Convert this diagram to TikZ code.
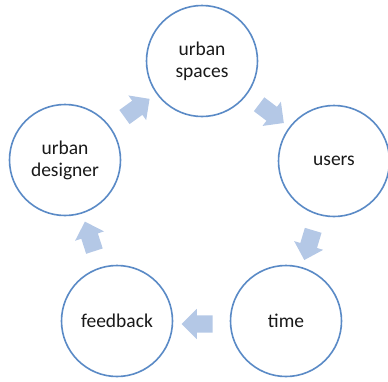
\documentclass[tikz,border=0pt]{standalone}
\usepackage{fontspec}
\setmainfont{Carlito}
\usetikzlibrary{shapes.arrows}
\definecolor{ring}{HTML}{5A8AC6}
\definecolor{arrowfill}{HTML}{B4C8E6}
\begin{document}
\begin{tikzpicture}[x=1pt,y=-1pt,
  stage/.style={circle, draw=ring, line width=1.6pt, fill=white, minimum size=111pt, inner sep=0pt, align=center, font=\fontsize{19.5}{22}\selectfont, text=black!90},
  blockarrow/.style={single arrow, fill=arrowfill, draw=none, minimum height=31pt, single arrow head extend=6.5pt, inner xsep=0pt, inner ysep=8.5pt, sloped, allow upside down}]
\useasboundingbox (0,0) rectangle (388,381);
\node[stage] (sp) at (202,61) {urban\\spaces};
\node[stage] (us) at (334,161) {users};
\node[stage] (ti) at (286,321) {time};
\node[stage] (fb) at (117,321) {feedback};
\node[stage] (ud) at (65,160) {urban\\designer};
\path (sp) -- node[blockarrow]{} (us);
\path (us) -- node[blockarrow]{} (ti);
\path (ti) -- node[blockarrow, yshift=3pt]{} (fb);
\path (fb) -- node[blockarrow]{} (ud);
\path (ud) -- node[blockarrow]{} (sp);
\end{tikzpicture}
\end{document}
